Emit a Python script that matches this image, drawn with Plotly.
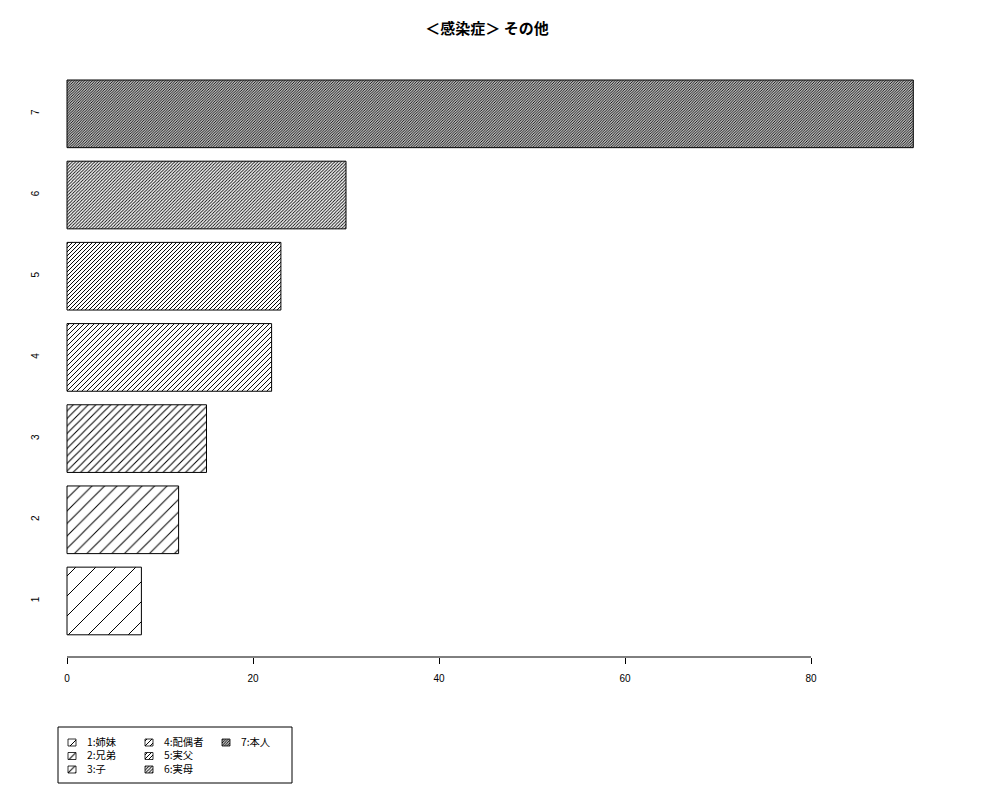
import plotly.graph_objects as go

categories = ["1", "2", "3", "4", "5", "6", "7"]
legend_names = ["1:姉妹", "2:兄弟", "3:子", "4:配偶者", "5:実父", "6:実母", "7:本人"]
values = [8, 12, 15, 22, 23, 30, 91]
hatch_spacing = [20, 12.5, 7.5, 5, 4, 3.2, 2.6]   # horizontal spacing of hatch lines (px)
hatch_width = [1.0, 1.0, 1.0, 0.95, 0.97, 0.87, 0.95]  # hatch line widths (px)
x_ticks = [0, 20, 40, 60, 80]
title_text = "<b>＜感染症＞ その他</b>"

W, H = 1000, 800
O = 7  # page offset of the drawing in the screenshot
PL, PR, PT, PB = 45, 946, 56, 656
PX_PER_UNIT = 9.3
X0_PX = 66

cjk = "Noto Sans CJK JP"

def hatch(spacing, w):
    s = spacing / 2 ** 0.5
    return dict(shape="/", size=s, solidity=min(0.7, w / s),
                fgcolor="black", bgcolor="white", fillmode="replace")

fig = go.Figure()
for cat, v, sp, lw in zip(categories, values, hatch_spacing, hatch_width):
    fig.add_trace(go.Bar(
        y=[cat], x=[v], orientation="h", showlegend=False,
        marker=dict(color="white", line=dict(color="black", width=1), pattern=hatch(sp, lw)),
        xaxis="x", yaxis="y", hoverinfo="x+y",
    ))

# legend: swatches on a pixel-coordinate overlay axis, texts as one annotation per column
col_texts = {}
for i, (name, sp, lw) in enumerate(zip(legend_names, hatch_spacing, hatch_width)):
    col, row = i // 3, i % 3
    sx = 67 + col * 77
    ry = 741.5 + row * 13.5
    fig.add_trace(go.Bar(
        y=[ry], x=[8], base=[sx], width=[7], offset=[-3.5], orientation="h",
        showlegend=False,
        marker=dict(color="white", line=dict(color="black", width=0.8), pattern=hatch(sp, lw)),
        xaxis="x2", yaxis="y2", hoverinfo="skip",
    ))
    col_texts.setdefault(col, []).append((name, sx, ry))

annotations = []
for col, items in col_texts.items():
    ys = [it[2] for it in items]
    annotations.append(dict(
        x=items[0][1] + 17, y=ys[0] - 3, xref="x2", yref="y2",
        text="<br>".join(it[0] for it in items),
        showarrow=False, xanchor="left", yanchor="top", yshift=7.5, align="left",
        font=dict(family=cjk, size=10.3, color="black")))

fig.update_layout(
    width=W, height=H,
    margin=dict(l=0, r=0, t=0, b=0),
    paper_bgcolor="white", plot_bgcolor="rgba(0,0,0,0)",
    barmode="overlay",
    bargap=1 - 1 / 1.2,
    showlegend=False,
    title=dict(text=title_text, x=(486 - O) / W, xanchor="center",
               y=1 - (28 - O) / H, yanchor="middle",
               font=dict(family=cjk, size=15, color="black")),
    xaxis=dict(domain=[(PL - O) / W, (PR - O) / W],
               range=[-(X0_PX - PL) / PX_PER_UNIT, (PR - X0_PX) / PX_PER_UNIT],
               tickvals=x_ticks, ticks="outside", ticklen=6, tickcolor="black",
               showline=False, showgrid=False, zeroline=False, automargin=False,
               tickfont=dict(family="Liberation Sans", size=10, color="black"),
               ticklabelstandoff=6, anchor="y"),
    yaxis=dict(domain=[(H - (PB - O)) / H, (H - (PT - O)) / H],
               type="category", categoryorder="array", categoryarray=categories,
               range=[-0.69, 6.70], ticks="", showline=False, showgrid=False,
               zeroline=False, automargin=False, tickangle=-90, ticklabelstandoff=4,
               tickfont=dict(family="Liberation Sans", size=10, color="black"), anchor="x"),
    xaxis2=dict(domain=[0, 1], range=[O, W + O], visible=False, anchor="y2",
                fixedrange=True),
    yaxis2=dict(domain=[0, 1], range=[H + O, O], visible=False, anchor="x2",
                fixedrange=True),
    annotations=annotations,
    shapes=[
        dict(type="line", xref="x", yref="y domain", x0=x_ticks[0], x1=x_ticks[-1],
             y0=0, y1=0, line=dict(color="black", width=1)),
        dict(type="rect", xref="x2", yref="y2", x0=57, x1=291, y0=726, y1=782,
             line=dict(color="black", width=1)),
    ],
)

fig.write_html("out.html")
